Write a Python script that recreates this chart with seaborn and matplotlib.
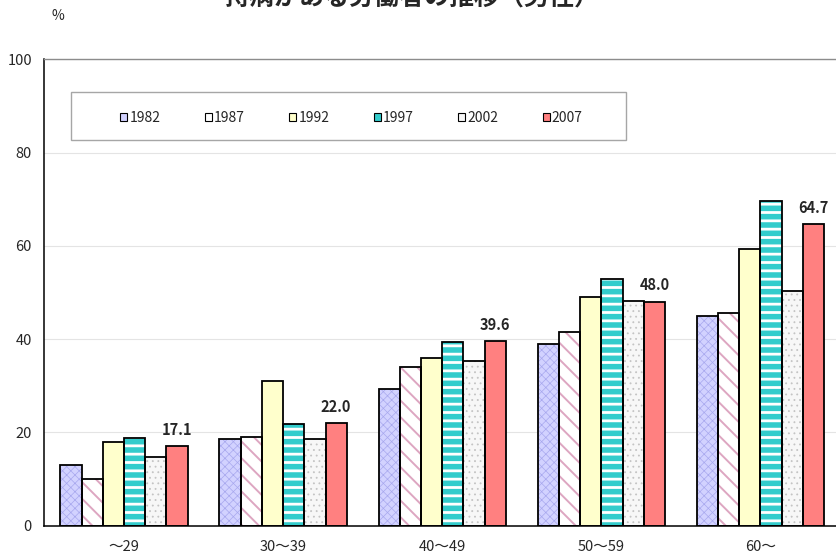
import numpy as np
import pandas as pd
import matplotlib
matplotlib.use("Agg")
import matplotlib.pyplot as plt
from matplotlib.patches import Patch, Rectangle
import seaborn as sns

# ---- data -------------------------------------------------------------
age_groups = ["～29", "30～39", "40～49", "50～59", "60～"]
years = ["1982", "1987", "1992", "1997", "2002", "2007"]
rate_1982 = [13.0, 18.6, 29.2, 39.0, 45.0]
rate_1987 = [10.0, 19.1, 34.0, 41.5, 45.5]
rate_1992 = [18.0, 31.0, 36.0, 49.0, 59.4]
rate_1997 = [18.9, 21.9, 39.4, 52.9, 69.7]
rate_2002 = [14.7, 18.6, 35.2, 48.2, 50.4]
rate_2007 = [17.1, 22.0, 39.6, 48.0, 64.7]
y_ticks = [0, 20, 40, 60, 80, 100]
title_text = "持病がある労働者の推移（男性）"
unit_text = "%"

# ---- styles (face colour, hatch, hatch colour, hatch width) ----------
bar_styles = {
    "1982": ("#D2D2FF", "xxxx", "#A8A8EE", 0.5),
    "1987": ("#FFFFFF", "\\\\", "#DDA6C1", 1.4),
    "1992": ("#FFFFCC", "", "#FFFFCC", 0.5),
    "1997": ("#33CCCC", "--", "#FFFFFF", 2.0),
    "2002": ("#F7F7F7", "...", "#C4C4C4", 0.6),
    "2007": ("#FF8080", "", "#FF8080", 0.5),
}

sns.set_style("white")
plt.rcParams["font.family"] = ["Noto Sans CJK JP", "DejaVu Sans"]
plt.rcParams["hatch.linewidth"] = 1.0

series = [rate_1982, rate_1987, rate_1992, rate_1997, rate_2002, rate_2007]
df = pd.DataFrame(
    [{"age": g, "year": yr, "rate": v}
     for yr, vals in zip(years, series)
     for g, v in zip(age_groups, vals)]
)

W, H = 837, 557
fig = plt.figure(figsize=(W / 100, H / 100), dpi=100)
ax = fig.add_axes([44.4 / W, 31.3 / H, (840 - 44.4) / W, (525.7 - 59.2) / H])

palette = {yr: bar_styles[yr][0] for yr in years}
sns.barplot(data=df, x="age", y="rate", hue="year", order=age_groups,
            hue_order=years, palette=palette, saturation=1, width=0.8,
            errorbar=None, legend=False, ax=ax, zorder=2)

# patterned fills, then a black outline on top of every bar
for yr, cont in zip(years, ax.containers):
    face, hatch, hcol, hlw = bar_styles[yr]
    for bar in cont:
        bar.set_hatch(hatch if hatch else None)
        bar.set_edgecolor(hcol)
        bar.set_linewidth(0)
        if hasattr(bar, "set_hatch_linewidth"):
            bar.set_hatch_linewidth(hlw)
        ax.add_patch(Rectangle((bar.get_x(), bar.get_y()), bar.get_width(),
                               bar.get_height(), fill=False,
                               edgecolor="black", linewidth=1.3, zorder=3))

ax.bar_label(ax.containers[-1], fmt="%.1f", padding=6, fontsize=10.5,
             fontweight="bold", zorder=4)

# axes
ax.set_xlim(-0.5, len(age_groups) - 0.5)
ax.set_ylim(0, 100)
ax.set_yticks(y_ticks)
ax.set_xlabel("")
ax.set_ylabel("")
ax.yaxis.grid(True, color="#E4E4E4", linewidth=0.8)
ax.set_axisbelow(True)
ax.tick_params(axis="y", length=0, pad=9, labelsize=10.5)
ax.tick_params(axis="x", which="major", length=0, pad=10, labelsize=10.5)
ax.set_xticks(np.arange(-0.5, len(age_groups), 1.0), minor=True)
ax.tick_params(axis="x", which="minor", direction="in", length=3,
               color="#999999", width=0.8)
for side in ("left", "bottom"):
    ax.spines[side].set_color("black")
    ax.spines[side].set_linewidth(1.1)
ax.spines["top"].set_color("#8C8C8C")
ax.spines["top"].set_linewidth(1.0)
ax.spines["right"].set_visible(False)

# legend box and entries
legend_box = Rectangle((71 / W, 1 - 140 / H), 555 / W, 48 / H,
                       transform=fig.transFigure, facecolor="white",
                       edgecolor="#A6A6A6", linewidth=1.0, zorder=5,
                       clip_on=False)
ax.add_artist(legend_box)
handles = [Patch(facecolor=bar_styles[yr][0], edgecolor="black", linewidth=0.8)
           for yr in years]
leg = ax.legend(handles, years, loc="center",
                bbox_to_anchor=(351.5 / W, 1 - 117.5 / H),
                bbox_transform=fig.transFigure, ncol=6, frameon=False,
                fontsize=10, handlelength=0.5, handleheight=0.5,
                handletextpad=0.15, columnspacing=3.2)
leg.set_zorder(6)

fig.text(412 / W, 1 - 5.5 / H, title_text, ha="center", va="baseline",
         fontsize=18, fontweight="bold")
fig.text(57.5 / W, 1 - 16 / H, unit_text, ha="center", va="center",
         fontsize=10)

fig.savefig("out.png", dpi=100)
